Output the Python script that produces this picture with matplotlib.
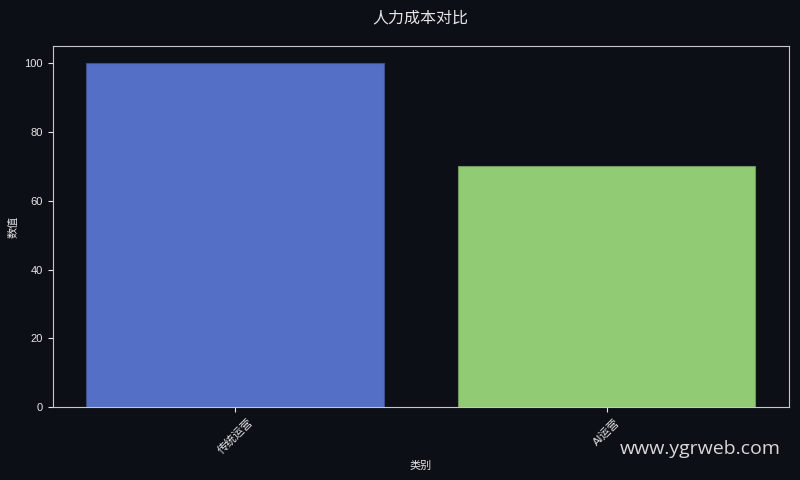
import matplotlib
matplotlib.use('Agg')
import matplotlib.pyplot as plt

plt.rcParams['font.family'] = ['Liberation Sans', 'Noto Sans CJK SC', 'DejaVu Sans']

categories = ["传统运营", "AI运营"]
values = [100, 70]
colors = ["#5470c6", "#91cc75"]
edges = ["#3b4f8c", "#6a9a55"]

bg = "#0c0f16"
fg = "#e6e6e6"
cjk = ['Noto Sans CJK SC', 'DejaVu Sans']

fig = plt.figure(figsize=(8, 4.8), dpi=100, facecolor=bg)
ax = fig.add_axes([0.066, 0.152, 0.92, 0.752])
ax.set_facecolor(bg)

ax.bar(categories, values, color=colors, width=0.8, edgecolor=edges, linewidth=0.8)

for s in ax.spines.values():
    s.set_color("#c8c8c8")
ax.tick_params(colors=fg, labelsize=8)
plt.setp(ax.get_xticklabels(), rotation=45)

ax.set_xlabel("类别", color=fg, fontsize=8, family=cjk)
ax.set_ylabel("数值", color=fg, fontsize=8, family=cjk)
fig.text(0.526, 0.962, "人力成本对比", color=fg, fontsize=11.5, ha="center", va="center", family=cjk)

fig.text(0.976, 0.065, "www.ygrweb.com", color="#d8d8d8", fontsize=14, ha="right", va="center",
         family=['Open Sans', 'DejaVu Sans'])

fig.savefig("out.png", dpi=100, facecolor=bg)
